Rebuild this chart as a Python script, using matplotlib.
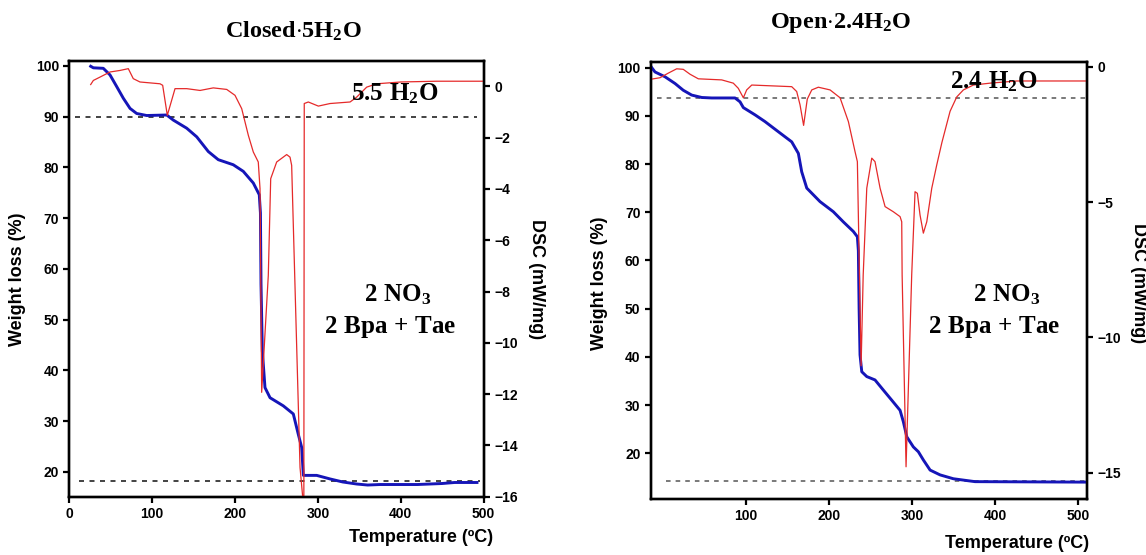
import matplotlib
matplotlib.use('Agg')
import matplotlib.pyplot as plt

plt.rcParams['font.family'] = ['Liberation Sans', 'DejaVu Sans']
plt.rcParams['font.weight'] = 'bold'
plt.rcParams['mathtext.fontset'] = 'custom'
plt.rcParams['mathtext.rm'] = 'Liberation Serif:bold'
plt.rcParams['mathtext.it'] = 'Liberation Serif:bold'
plt.rcParams['mathtext.bf'] = 'Liberation Serif:bold'

# ---------------- data: Closed·5H2O ----------------
closed_tga_T = [25.7, 28.9, 40.9, 49.0, 57.1, 65.1, 73.2, 81.2, 93.3, 117.5, 125.4, 141.6,
                153.7, 167.7, 179.7, 197.8, 209.9, 222.0, 229.2, 230.6, 231.3, 232.9, 236.1,
                242.2, 258.2, 270.3, 276.3, 280.4, 282.4, 298.5, 314.6, 330.0, 346.8, 360.0,
                375.0, 420.0, 450.0, 465.0, 492.0]
closed_tga_W = [99.9, 99.6, 99.5, 98.2, 95.9, 93.6, 91.6, 90.6, 90.2, 90.3, 89.3, 87.7,
                86.0, 83.1, 81.5, 80.5, 79.2, 76.9, 74.6, 71.0, 57.0, 43.8, 36.6,
                34.6, 33.0, 31.4, 27.4, 24.8, 19.3, 19.3, 18.6, 18.0, 17.6, 17.4,
                17.5, 17.5, 17.7, 17.9, 17.9]
closed_dsc_T = [25.7, 28.9, 36.9, 49.0, 61.1, 71.1, 77.1, 85.2, 109.4, 112.6, 118.2, 127.5,
                141.6, 157.7, 173.7, 189.9, 199.9, 208.0, 216.0, 222.0, 228.0, 230.1, 232.1,
                240.1, 243.0, 250.2, 262.3, 266.3, 268.3, 278.4, 283.0, 283.5, 288.4, 300.5,
                314.6, 326.7, 338.8, 346.8, 358.9, 371.0, 400.0, 443.4, 500.0]
closed_dsc_D = [0.07, 0.23, 0.36, 0.56, 0.62, 0.69, 0.30, 0.17, 0.10, 0.04, -1.13, -0.09,
                -0.09, -0.16, -0.06, -0.12, -0.35, -0.87, -1.91, -2.56, -2.95, -3.99, -11.93,
                -7.37, -3.60, -2.95, -2.66, -2.76, -3.08, -14.86, -16.5, -0.67, -0.61, -0.77,
                -0.67, -0.64, -0.61, -0.42, -0.03, 0.10, 0.17, 0.20, 0.20]

# ---------------- data: Open·2.4H2O ----------------
open_tga_T = [-12.7, -8.8, 3.2, 15.3, 25.2, 35.3, 47.4, 59.4, 87.4, 93.4, 97.4, 111.4,
              123.4, 139.4, 155.5, 163.5, 167.5, 173.6, 189.5, 205.5, 217.5, 229.6, 234.4,
              235.6, 236.5, 237.6, 239.7, 245.7, 255.6, 265.6, 275.7, 285.7, 289.7, 293.8,
              301.7, 307.7, 313.7, 321.8, 333.8, 349.8, 367.0, 375.8, 510.5]
open_tga_W = [100.0, 99.1, 98.1, 96.7, 95.3, 94.3, 93.8, 93.7, 93.7, 92.9, 91.7, 90.2,
              88.8, 86.7, 84.6, 82.2, 78.4, 75.0, 72.2, 70.1, 68.0, 66.0, 64.9,
              62.0, 50.0, 40.4, 36.9, 35.9, 35.2, 33.1, 31.0, 28.9, 26.5, 23.4,
              21.3, 20.3, 18.6, 16.5, 15.5, 14.7, 14.3, 14.1, 14.0]
open_dsc_T = [-12.7, -2.8, 7.2, 17.3, 25.2, 33.3, 43.3, 71.4, 85.3, 91.3, 97.4, 101.4,
              107.5, 123.4, 155.5, 161.5, 165.5, 169.8, 174.2, 179.6, 187.5, 201.6, 213.6,
              223.6, 231.6, 234.4, 238.9, 241.4, 245.7, 251.7, 255.6, 261.7, 267.7, 277.6,
              285.7, 287.7, 288.2, 292.9, 299.7, 303.7, 306.5, 309.7, 313.7, 317.8, 323.8,
              329.8, 336.0, 345.8, 353.8, 361.8, 373.8, 393.9, 426.0, 510.5]
open_dsc_D = [-0.46, -0.41, -0.24, -0.08, -0.10, -0.28, -0.45, -0.49, -0.61, -0.80, -1.15, -0.86,
              -0.68, -0.70, -0.74, -0.92, -1.41, -2.17, -1.20, -0.86, -0.76, -0.86, -1.15,
              -2.03, -3.14, -3.51, -11.05, -7.70, -4.49, -3.38, -3.51, -4.49, -5.17, -5.36,
              -5.54, -5.73, -7.70, -14.78, -7.69, -4.62, -4.68, -5.48, -6.15, -5.73, -4.49,
              -3.63, -2.80, -1.65, -1.12, -0.86, -0.68, -0.61, -0.53, -0.53]

# reference (dashed) levels
closed_levels = [90.0, 18.2]
open_levels = [93.75, 14.3]

W_PX, H_PX = 1146, 555
fig = plt.figure(figsize=(W_PX / 100, H_PX / 100), dpi=100)

BLUE = '#1515b8'
RED = '#e52a2a'


def fx(px):
    return px / W_PX


def fy(py):
    return 1 - py / H_PX


def style(ax):
    for s in ax.spines.values():
        s.set_linewidth(1.7)
    ax.tick_params(direction='out', length=4.5, width=1.6, labelsize=10, pad=3)
    for lab in ax.get_xticklabels() + ax.get_yticklabels():
        lab.set_fontweight('bold')


# ---------------- left panel ----------------
axL = fig.add_axes([fx(69.4), fy(496.7), fx(483.6 - 69.4), (496.7 - 60.7) / H_PX])
axL.plot(closed_tga_T, closed_tga_W, color=BLUE, lw=2.1, zorder=3)
axL.hlines(closed_levels[0], 6.8, 491.7, colors='#222222', linestyles=(0, (3, 3.3)), lw=1.2)
axL.hlines(closed_levels[1], 11, 496, colors='#222222', linestyles=(0, (3, 3.3)), lw=1.2)
axL.set_xlim(0, 500)
axL.set_ylim(15.1, 101.0)
axL.set_xticks([0, 100, 200, 300, 400, 500])
axL.set_yticks([20, 30, 40, 50, 60, 70, 80, 90, 100])
style(axL)
axL2 = axL.twinx()
axL2.plot(closed_dsc_T, closed_dsc_D, color=RED, lw=0.9)
axL2.set_ylim(-16, 1.0)
axL2.set_yticks([0, -2, -4, -6, -8, -10, -12, -14, -16])
style(axL2)

# ---------------- right panel ----------------
axR = fig.add_axes([fx(650.9), fy(499), fx(1087.3 - 650.9), (499 - 62.3) / H_PX])
axR.plot(open_tga_T, open_tga_W, color=BLUE, lw=2.1, zorder=3)
axR.hlines(open_levels[0], -6.7, 511, colors='#555555', linestyles=(0, (3, 3.3)), lw=1.1)
axR.hlines(open_levels[1], 4.5, 511, colors='#555555', linestyles=(0, (3, 3.3)), lw=1.1)
axR.set_xlim(-13.7, 510.7)
axR.set_ylim(10.5, 101.1)
axR.set_xticks([100, 200, 300, 400, 500])
axR.set_yticks([20, 30, 40, 50, 60, 70, 80, 90, 100])
style(axR)
axR2 = axR.twinx()
axR2.plot(open_dsc_T, open_dsc_D, color=RED, lw=0.9)
axR2.set_ylim(-15.97, 0.16)
axR2.set_yticks([0, -5, -10, -15])
style(axR2)

# ---------------- texts ----------------
serif = dict(ha='center', va='baseline')
fig.text(fx(293.5), fy(37.3), r'$\mathrm{Closed{\cdot}5H_2O}$', fontsize=17.5, **serif)
fig.text(fx(840.7), fy(28.3), r'$\mathrm{Open{\cdot}2.4H_2O}$', fontsize=17.5, **serif)

fig.text(fx(395), fy(100), r'$\mathrm{5.5\ H_2O}$', fontsize=18, **serif)
fig.text(fx(397.5), fy(301.5), r'$\mathrm{2\ NO_3}$', fontsize=18, **serif)
fig.text(fx(390), fy(333.3), r'$\mathrm{2\ Bpa\ {+}\ Tae}$', fontsize=18, **serif)

fig.text(fx(994), fy(88.3), r'$\mathrm{2.4\ H_2O}$', fontsize=18, **serif)
fig.text(fx(1007), fy(301.5), r'$\mathrm{2\ NO_3}$', fontsize=18, **serif)
fig.text(fx(994.3), fy(333.3), r'$\mathrm{2\ Bpa\ {+}\ Tae}$', fontsize=18, **serif)

lab = dict(fontsize=13, fontweight='bold', ha='center', va='center')
fig.text(fx(421.5), fy(538), 'Temperature (ºC)', **lab)
fig.text(fx(1017), fy(543), 'Temperature (ºC)', **lab)
fig.text(fx(18), fy(279), 'Weight loss (%)', rotation=90, **lab)
fig.text(fx(600), fy(283), 'Weight loss (%)', rotation=90, **lab)
fig.text(fx(536), fy(279), 'DSC (mW/mg)', rotation=270, **lab)
fig.text(fx(1138), fy(283), 'DSC (mW/mg)', rotation=270, **lab)

fig.savefig('out.png', dpi=100)
